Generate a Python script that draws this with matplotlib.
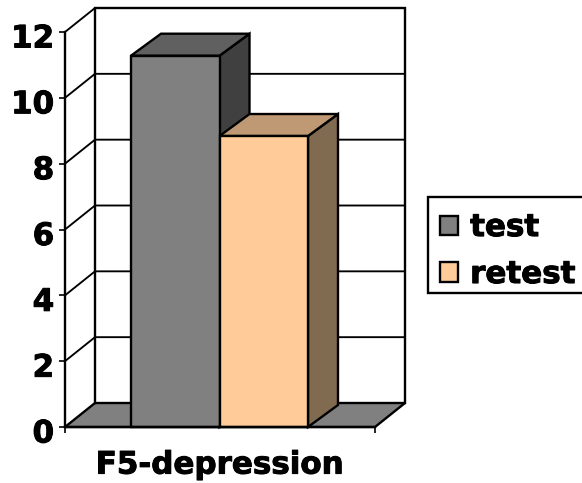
import matplotlib
matplotlib.use("Agg")
import matplotlib.pyplot as plt
import matplotlib.patheffects as pe
from matplotlib.patches import Polygon, Patch, Rectangle
from matplotlib.transforms import ScaledTranslation

categories = ["F5-depression"]
series_names = ["test", "retest"]
series_values = [11.28, 8.84]
front_colors = ["#808080", "#FFCC99"]
top_colors = ["#606060", "#BF9973"]
side_colors = ["#404040", "#806A50"]
y_ticks = [0, 2, 4, 6, 8, 10, 12]

W, H = 582, 483
FS = 22.3
plt.rcParams["font.family"] = "DejaVu Sans"
plt.rcParams["font.weight"] = "bold"
fig = plt.figure(figsize=(W / 100, H / 100), dpi=100, facecolor="white")
ax = fig.add_axes([65 / W, 1 - 427 / H, 310 / W, 395 / H])
ax.set_xlim(0, 1)
ax.set_ylim(0, 12)
ax.patch.set_alpha(0)

px_x = 1 / 310
px_y = 12 / 395
wall_dx = 30 * px_x
wall_dy = 24 * px_y
bar_dx = 30 * px_x
bar_dy = 22 * px_y
bar_left = 66 * px_x
bar_width = 88.5 * px_x
LW = 1.7
GLW = 1.35
heavy = [pe.withStroke(linewidth=0.7, foreground="black")]

def poly(pts, fc, z):
    ax.add_patch(Polygon(pts, closed=True, facecolor=fc, edgecolor="black",
                         linewidth=LW, zorder=z, clip_on=False, joinstyle="miter"))

# floor
poly([(0, 0), (1, 0), (1 + wall_dx, wall_dy), (wall_dx, wall_dy)], "#808080", 1)

# gridlines on the side and back walls
for t in y_ticks[1:]:
    ax.plot([0, wall_dx, 1 + wall_dx], [t, t + wall_dy, t + wall_dy], color="black",
            lw=GLW, clip_on=False, zorder=1, solid_joinstyle="miter")
# back wall outline
ymax = y_ticks[-1]
ax.plot([wall_dx, wall_dx, 1 + wall_dx, 1 + wall_dx],
        [wall_dy, ymax + wall_dy, ymax + wall_dy, wall_dy],
        color="black", lw=LW, clip_on=False, zorder=1, solid_joinstyle="miter")

# bars, far bar last so that the neighbour's side wall is covered
for i, (v, fc, tc, sc) in enumerate(zip(series_values, front_colors, top_colors, side_colors)):
    x0 = bar_left + i * bar_width
    x1 = x0 + bar_width
    z = 3 + i
    poly([(x1, 0), (x1 + bar_dx, bar_dy), (x1 + bar_dx, v + bar_dy), (x1, v)], sc, z)
    poly([(x0, v), (x1, v), (x1 + bar_dx, v + bar_dy), (x0 + bar_dx, v + bar_dy)], tc, z)
    poly([(x0, 0), (x1, 0), (x1, v), (x0, v)], fc, z)

# axes
for s in ("top", "right"):
    ax.spines[s].set_visible(False)
for s in ("left", "bottom"):
    ax.spines[s].set_linewidth(LW)
    ax.spines[s].set_zorder(6)
ax.set_yticks(y_ticks)
ax.tick_params(axis="y", length=4.3, width=1.2, pad=3.5, labelsize=FS)
ax.set_xticks([0, 1])
ax.set_xticklabels(["", ""])
ax.tick_params(axis="x", which="major", length=4.3, width=1.2)
ax.set_xticks([0.5], minor=True)
ax.set_xticklabels(categories, minor=True)
ax.tick_params(axis="x", which="minor", length=0, pad=17, labelsize=FS)
shift = ScaledTranslation(0, -4 / 100, fig.dpi_scale_trans)
for lab in ax.get_yticklabels():
    lab.set_transform(lab.get_transform() + shift)
    lab.set_path_effects(heavy)
for lab in ax.get_xticklabels(minor=True):
    lab.set_path_effects(heavy)

# legend: box runs off the right edge of the picture
fig.add_artist(Rectangle((428 / W, 1 - 293 / H), 170 / W, 96 / H, transform=fig.transFigure,
                         facecolor="white", edgecolor="black", linewidth=LW, zorder=2))
handles = [Patch(facecolor=c, edgecolor="black", linewidth=LW, label=n)
           for c, n in zip(front_colors, series_names)]
leg = fig.legend(handles=handles, loc="upper left",
                 bbox_to_anchor=(428 / W, 1 - 201 / H), borderaxespad=0,
                 fontsize=FS, frameon=False,
                 handlelength=0.58, handleheight=0.58, handletextpad=0.39,
                 labelspacing=0.58, borderpad=0.39)
leg.set_zorder(3)
for t in leg.get_texts():
    t.set_path_effects(heavy)

fig.savefig("out.png", dpi=100, facecolor="white")
